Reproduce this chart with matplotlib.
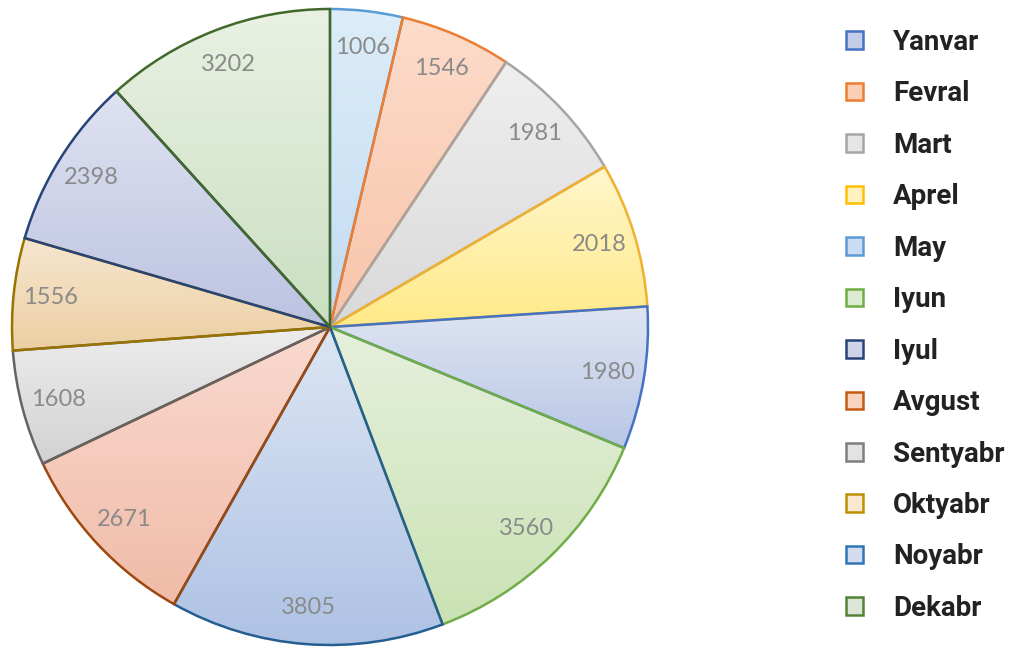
import numpy as np
import matplotlib
matplotlib.use('Agg')
from matplotlib import pyplot as plt
from matplotlib.colors import LinearSegmentedColormap
from matplotlib.patches import Patch

# Qiymatlar (soat yo'nalishida, yuqoridan boshlab)
values = [1006, 1546, 1981, 2018, 1980, 3560, 3805, 2671, 1608, 1556, 2398, 3202]

# Bo'lak chegaralari va gradient ranglari (yuqori -> past)
edge_colors = ['#5B9BD5', '#ED7D31', '#A5A5A5', '#F0B030', '#4472C4', '#70AD47',
               '#255E91', '#9E480E', '#636363', '#997300', '#264478', '#43682B']
fill_top = ['#DDEDF9', '#FCDCCB', '#EFEFEF', '#FFF6CC', '#DFE5F3', '#E6F0DC',
            '#DCE6F4', '#F9DAD0', '#EDEDED', '#F6E6CF', '#DFE2F1', '#E9F1E3']
fill_bottom = ['#C2DBF1', '#F8C4AA', '#D9D9D9', '#FFEA88', '#B8C6E5', '#CAE2B4',
               '#AEC2E4', '#F1BBA8', '#D2D2D2', '#ECCFA2', '#BCC3E1', '#CADFC0']

# Legend
months = ['Yanvar', 'Fevral', 'Mart', 'Aprel', 'May', 'Iyun',
          'Iyul', 'Avgust', 'Sentyabr', 'Oktyabr', 'Noyabr', 'Dekabr']
legend_edges = ['#4472C4', '#ED7D31', '#A5A5A5', '#FFC000', '#5B9BD5', '#70AD47',
                '#264478', '#C55A11', '#7F7F7F', '#BF8F00', '#2E75B6', '#548235']
legend_fills = ['#C5CCEA', '#FBCFB5', '#E6E6E6', '#FFF2C0', '#C9DCF2', '#DCEBD2',
                '#CED3E6', '#F8D3C0', '#E3E3E3', '#F8E8D0', '#D3DCEE', '#DCE6D8']

fig = plt.figure(figsize=(10.3, 6.48), dpi=100)
W, H = 1030, 648
cx, cy, r = 330, 327, 318
ax = fig.add_axes([(cx - r) / W, (H - cy - r) / H, 2 * r / W, 2 * r / H])

wedges, texts = ax.pie(values, startangle=90, counterclock=False,
                       labels=[str(v) for v in values], labeldistance=0.885,
                       wedgeprops=dict(linewidth=1.8),
                       textprops=dict(color='#8A8A8A', fontsize=17, family='Lato'))

for i, w in enumerate(wedges):
    w.set_facecolor('none')
    w.set_edgecolor(edge_colors[i])
    w.set_zorder(3)
    bb = w.get_path().transformed(w.get_patch_transform()).get_extents()
    cmap = LinearSegmentedColormap.from_list('g%d' % i, [fill_top[i], fill_bottom[i]])
    grad = np.linspace(0, 1, 256).reshape(-1, 1)
    im = ax.imshow(grad, cmap=cmap, aspect='auto', origin='upper',
                   extent=[bb.x0, bb.x1, bb.y0, bb.y1], zorder=1)
    im.set_clip_path(w)

for t in texts:
    t.set_zorder(5)
    t.set_ha('center')
    t.set_va('center')

ax.set_xlim(-1, 1)
ax.set_ylim(-1, 1)
ax.set_aspect('equal')
ax.axis('off')

handles = [Patch(facecolor=legend_fills[i], edgecolor=legend_edges[i], linewidth=1.8)
           for i in range(len(months))]
fig.legend(handles, months, loc='upper left', bbox_to_anchor=(846 / W, 1 - 29 / H),
           frameon=False, borderpad=0, borderaxespad=0,
           handlelength=0.6, handleheight=0.6, handletextpad=1.1,
           labelspacing=0.88,
           prop=dict(family='Roboto', weight='bold', size=20))
for t in fig.legends[0].get_texts():
    t.set_color('#222222')

fig.savefig('out.png', dpi=100)
